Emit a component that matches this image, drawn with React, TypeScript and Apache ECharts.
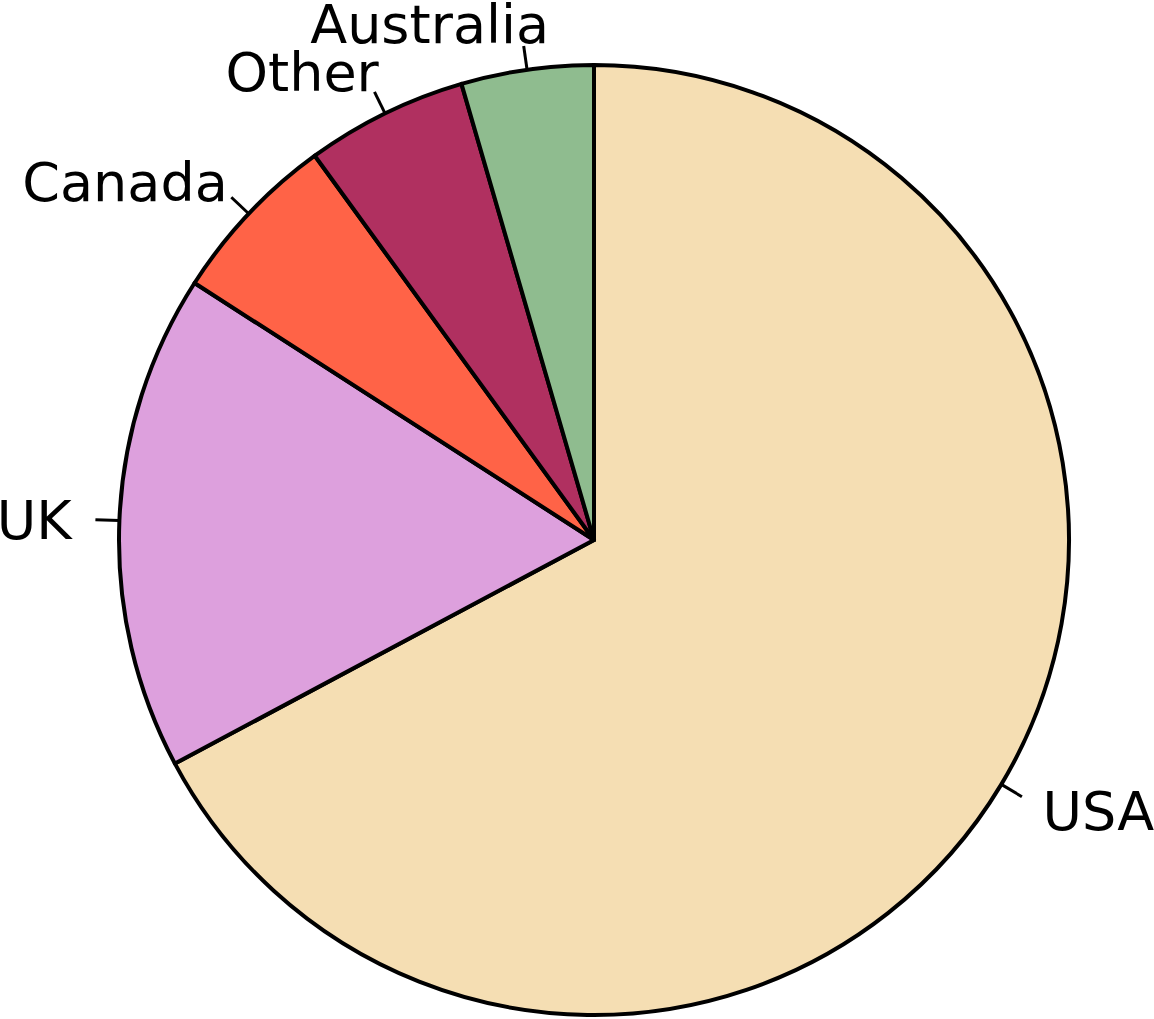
import React, { useEffect, useRef } from 'react'
import * as echarts from 'echarts'

const countries = ['USA', 'UK', 'Canada', 'Other', 'Australia']
const shares = [67.2, 16.9, 5.9, 5.5, 4.5]
const colors = ['#F5DEB3', '#DDA0DD', '#FF6347', '#B03060', '#8FBC8F']

const CX = 594
const CY = 540

const App: React.FC = () => {
    const chartRef = useRef<HTMLDivElement | null>(null)

    useEffect(() => {
        if (!chartRef.current) return
        const chart = echarts.init(chartRef.current, undefined, { renderer: 'svg' })

        const options = {
            animation: false,
            backgroundColor: '#ffffff',
            color: colors,
            series: [
                {
                    type: 'pie',
                    center: [CX, CY],
                    radius: 475,
                    startAngle: 90,
                    clockwise: true,
                    avoidLabelOverlap: false,
                    itemStyle: { borderColor: '#000', borderWidth: 4 },
                    emphasis: { disabled: true },
                    label: {
                        show: true,
                        position: 'outside',
                        color: '#000',
                        fontSize: 54,
                        fontFamily: 'DejaVu Sans',
                        distanceToLabelLine: 0,
                    },
                    labelLine: {
                        show: true,
                        length: 24,
                        length2: 0,
                        lineStyle: { color: '#000', width: 3 },
                    },
                    // text sits at 1.1r, the tick runs from r to 1.05r
                    labelLayout: (params: any) => {
                        const pts = params.labelLinePoints
                        if (!pts) return {}
                        const [p1, p2] = pts
                        let x = p2[0] + (p2[0] - p1[0])
                        const y = p2[1] + (p2[1] - p1[1]) + 2
                        // labels in the upper left lean a bit toward the middle
                        if (y < CY && x < CX) {
                            const ux = Math.abs(x - CX) / Math.hypot(x - CX, y - CY)
                            x += 0.13 * Math.sqrt(1 - ux) * params.labelRect.width
                        }
                        return { x, y, labelLinePoints: [p1, p2, p2] }
                    },
                    data: countries.map((name, i) => ({ name, value: shares[i] })),
                },
            ],
        }

        chart.setOption(options as any)

        const handleResize = () => chart.resize()
        window.addEventListener('resize', handleResize)
        return () => {
            window.removeEventListener('resize', handleResize)
            chart.dispose()
        }
    }, [])

    return (
        <div
            ref={chartRef}
            style={{ position: 'absolute', left: 0, top: 0, width: '1154px', height: '1019px' }}
        />
    )
}

export default App
